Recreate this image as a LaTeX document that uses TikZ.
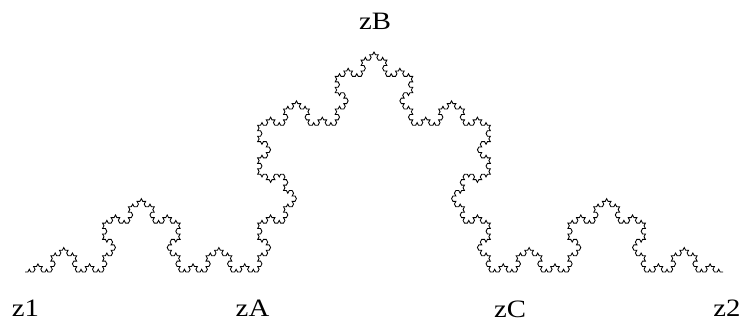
\documentclass[tikz,border=0pt]{standalone}
\usepackage{fontspec}
\newfontfamily\labfont[FakeStretch=1.15]{Liberation Serif}
\def\kstep{2.8724}
\gdef\kochpath{}
\def\kochgen#1#2{%
  \ifnum\numexpr#1\relax=0
    \xdef\kochpath{\unexpanded\expandafter{\kochpath}-- ++(\the\numexpr#2\relax:\kstep)}%
  \else
    \kochgen{#1-1}{#2}%
    \kochgen{#1-1}{#2+60}%
    \kochgen{#1-1}{#2-60}%
    \kochgen{#1-1}{#2}%
  \fi}
\kochgen{5}{0}
\tikzset{
  lab/.style={inner sep=0pt, anchor=base, font=\labfont\fontsize{25}{28}\selectfont, text=black},
  kochline/.style={draw=black, line width=0.85pt, line join=miter}
}
\begin{document}
\begin{tikzpicture}[x=1pt,y=1pt]
\useasboundingbox (0,0) rectangle (744,322);
\begin{scope}[shift={(25,50)}, yscale=1.092]
  \coordinate (z1) at (0,0);
  \coordinate (z2) at (698,0);
  \draw[kochline] (z1) \kochpath;
\end{scope}
\node[lab] (lz1) at (25.5,6) {z1};
\node[lab] (lzA) at (252.5,5.5) {zA};
\node[lab] (lzB) at (375,292.5) {zB};
\node[lab] (lzC) at (510,5) {zC};
\node[lab] (lz2) at (727,6) {z2};
\end{tikzpicture}
\end{document}
